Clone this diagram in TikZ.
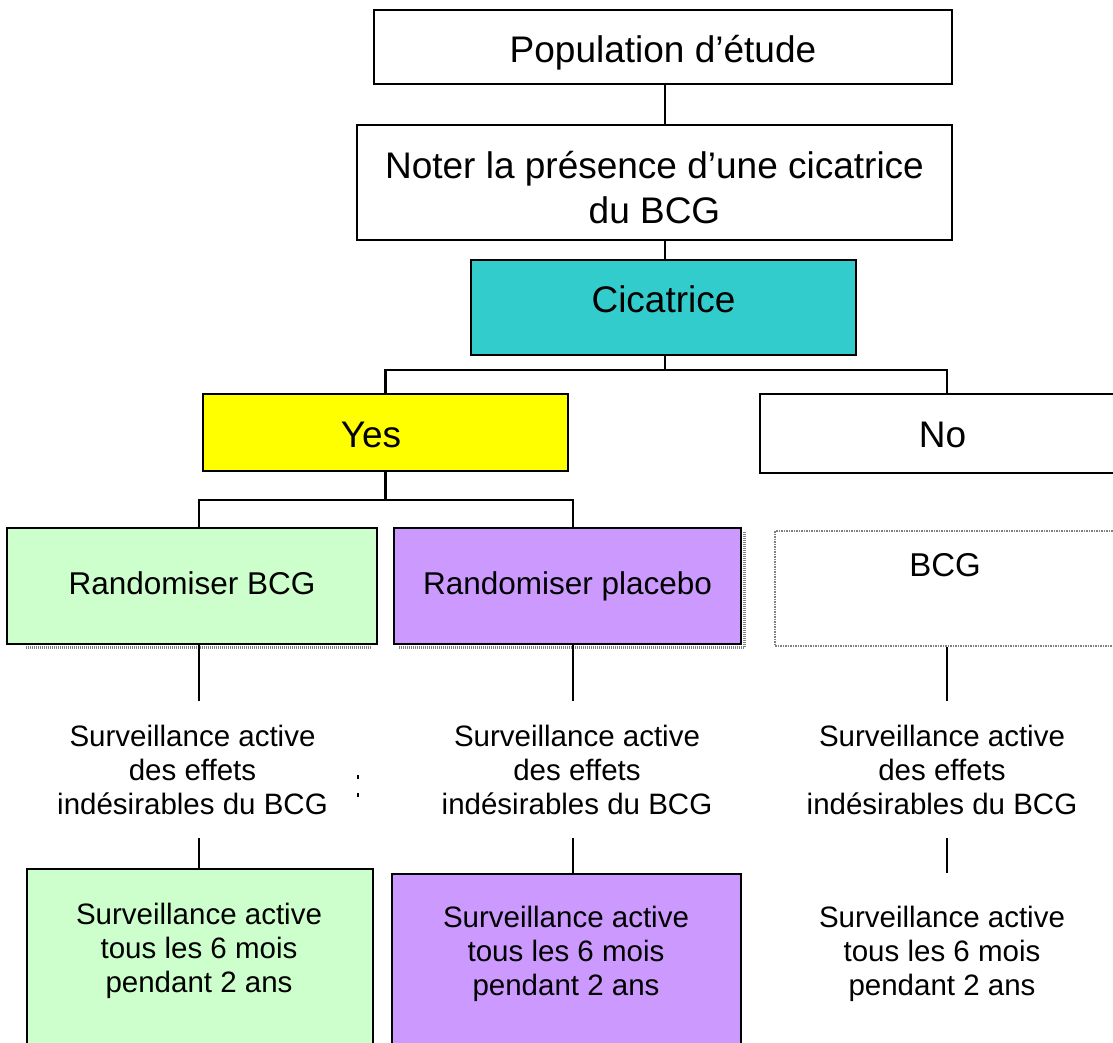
\documentclass[tikz,border=0pt]{standalone}
\usepackage{fontspec}
\setmainfont{Liberation Sans}
\usetikzlibrary{calc}
\definecolor{cteal}{HTML}{33CCCC}
\definecolor{cyel}{HTML}{FFFF00}
\definecolor{cgrn}{HTML}{CCFFCC}
\definecolor{cpur}{HTML}{CC99FF}
\begin{document}
\begin{tikzpicture}[x=1pt,y=-1pt,
  box/.style={draw=black, line width=2pt, inner sep=0pt},
  bigf/.style={font=\fontsize{37}{45}\selectfont},
  medf/.style={font=\fontsize{31.5}{36}\selectfont},
  smallf/.style={font=\fontsize{29.5}{34}\selectfont, align=center, inner xsep=0pt},
  conn/.style={line width=2.6pt},
  shad/.style={draw=gray, line width=2.5pt, dash pattern=on 1pt off 1pt},
  dotbox/.style={draw=gray, line width=2.5pt, dash pattern=on 1.5pt off 1pt, inner sep=0pt}]
\fill[white] (0,0) rectangle (1113,1043);
\useasboundingbox (0,0) rectangle (1113,1043);

% column coordinates
\coordinate (kt) at (665,0);
\coordinate (k1) at (199,0);
\coordinate (k2) at (573,0);
\coordinate (k3) at (947,0);

% top boxes
\node[box, bigf, minimum width=578pt, minimum height=74pt, text height=32pt, text depth=0pt] (pop) at (663,47) {Population d’étude};
\node[box, bigf, align=center, minimum width=595pt, minimum height=115pt] (noter) at (654.5,182.5) {\rule{0pt}{37pt}Noter la présence d’une cicatrice\\du BCG};
\node[box, fill=cteal, bigf, minimum width=385pt, minimum height=95pt, text height=9pt, text depth=0pt] (cic) at (663.5,307.5) {Cicatrice};
\node[box, fill=cyel, bigf, minimum width=365pt, minimum height=77pt, text height=29pt, text depth=0pt] (yes) at (385.5,432.5) {\kern-29pt Yes};
\node[box, fill=white, bigf, minimum width=365pt, minimum height=79pt, text height=27pt, text depth=0pt] (no) at (942.5,433.5) {No};

% second level
\node[box, fill=cgrn, medf, minimum width=370pt, minimum height=116pt, text height=16pt, text depth=0pt] (rbcg) at (192,586) {Randomiser BCG};
\node[box, fill=cpur, medf, minimum width=347pt, minimum height=116pt, text height=16pt, text depth=0pt] (rplac) at (567.5,586) {Randomiser placebo};
\node[dotbox, fill=white, font=\fontsize{33}{38}\selectfont, minimum width=340pt, minimum height=115pt, text height=0pt, text depth=25pt] (bcg) at (945,588.5) {BCG};

% shadows
\draw[shad] ($(rbcg.south west)+(20,2.5)$) -- ($(rbcg.south east)+(-7,2.5)$);
\draw[shad] ($(rplac.south west)+(6,2.5)$) -- ($(rplac.south east)+(2.5,2.5)$) -- ($(rplac.north east)+(2.5,5)$);

% middle texts
\node[smallf, anchor=north, inner ysep=23.5pt] (m1) at (192.5,701) {Surveillance active\\des effets\\indésirables du BCG};
\node[smallf, anchor=north, inner ysep=23.5pt] (m2) at (577,701) {Surveillance active\\des effets\\indésirables du BCG};
\node[smallf, anchor=north, inner ysep=23.5pt] (m3) at (942,701) {Surveillance active\\des effets\\indésirables du BCG};

% bottom boxes
\node[box, fill=cgrn, minimum width=346pt, minimum height=186pt] (gbot) at (200,962) {};
\node[box, fill=cpur, minimum width=349pt, minimum height=181pt] (pbot) at (566.5,964.5) {};
\node[smallf, anchor=north, inner ysep=0pt] (b1) at (199,902.5) {Surveillance active\\tous les 6 mois\\pendant 2 ans};
\node[smallf, anchor=north, inner ysep=0pt] (b2) at (566,905.5) {Surveillance active\\tous les 6 mois\\pendant 2 ans};
\node[smallf, anchor=north, inner ysep=32.5pt] (b3) at (942,873) {Surveillance active\\tous les 6 mois\\pendant 2 ans};

% connectors
\coordinate (br) at (665,370);
\coordinate (sb) at (385.5,500);
\draw[conn] (pop.south -| kt) -- (noter.north -| kt);
\draw[conn] (noter.south -| kt) -- (cic.north -| kt);
\draw[conn] (cic.south -| kt) -- (br);
\draw[conn] (yes.north) -- (yes.north |- br) -- (k3 |- br) -- (no.north -| k3);
\draw[conn] (yes.south) -- (sb);
\draw[conn] (rbcg.north -| k1) -- (k1 |- sb) -- (k2 |- sb) -- (rplac.north -| k2);
\draw[conn] (rbcg.south -| k1) -- (m1.north -| k1);
\draw[conn] (m1.south -| k1) -- (gbot.north -| k1);
\draw[conn] (rplac.south -| k2) -- (m2.north -| k2);
\draw[conn] (m2.south -| k2) -- (pbot.north -| k2);
\draw[conn] (bcg.south -| k3) -- (m3.north -| k3);
\draw[conn] (m3.south -| k3) -- (b3.north -| k3);

% small marks
\draw[line width=1.2pt] (358,775) -- (358,779);
\draw[line width=1.2pt] (358,793) -- (358,797);
\end{tikzpicture}
\end{document}
